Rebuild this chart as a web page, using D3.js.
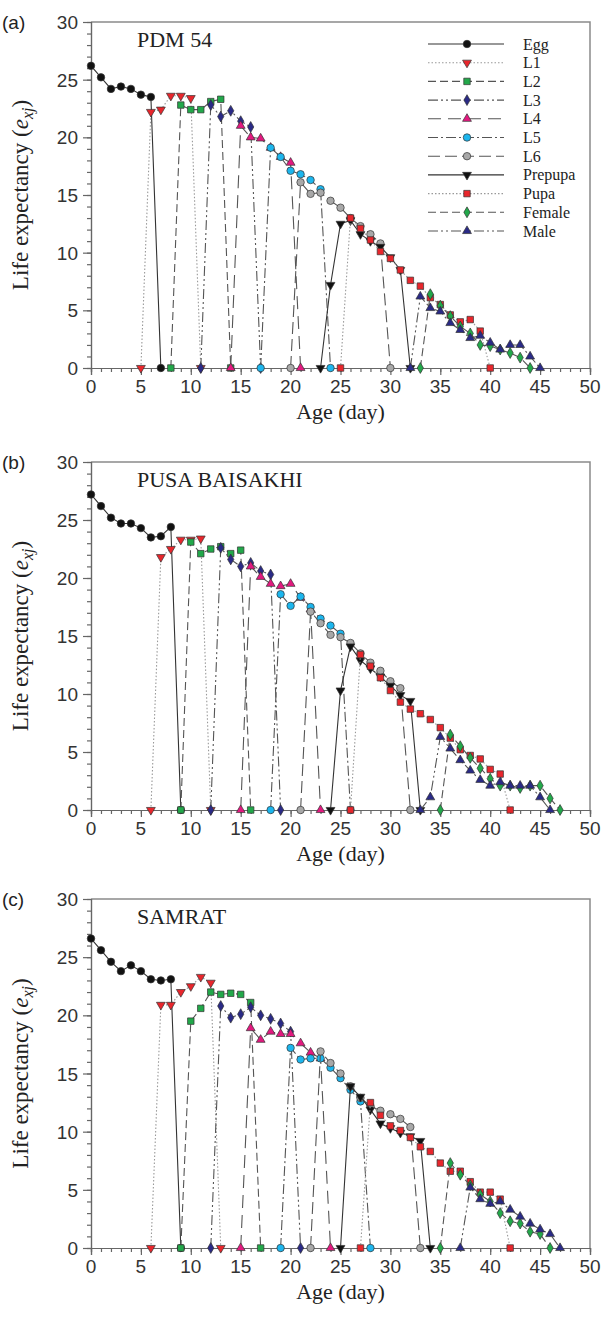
<!DOCTYPE html>
<html><head><meta charset="utf-8">
<script src="https://cdn.jsdelivr.net/npm/d3@7"></script>
<style>body{margin:0;background:#fff}svg{display:block}</style>
</head><body>
<script>
// ---------- data ----------
const stageNames = ["Egg","L1","L2","L3","L4","L5","L6","Prepupa","Pupa","Female","Male"];
const panelLabels = ["(a)","(b)","(c)"];
const panelTitles = ["PDM 54","PUSA BAISAKHI","SAMRAT"];
const xTicks = [0,5,10,15,20,25,30,35,40,45,50];
const yTicks = [0,5,10,15,20,25,30];

// first age (day) of each stage curve, then e_xj values day by day
const a_start = [0,5,8,11,14,17,20,23,25,33,32];
const a_values = [
  [26.2,25.2,24.2,24.4,24.2,23.7,23.5,0],
  [0,22.2,22.4,23.6,23.6,23.4,0],
  [0,22.8,22.4,22.4,23.1,23.3,0],
  [0,22.8,21.8,22.3,21.4,20.9,0],
  [0,21.0,20.0,19.9,19.1,18.3,17.8,0],
  [0,19.1,18.3,17.1,16.8,16.3,15.5,0],
  [0,16.1,15.1,15.2,14.5,13.9,13.0,12.3,11.6,10.8,0],
  [0,7.2,12.5,12.8,11.6,11.0,10.5,9.6,8.5,0],
  [0,13.0,12.1,11.1,10.1,9.5,8.5,7.6,7.1,6.1,5.5,4.6,4.0,4.2,3.2,0],
  [0,6.4,5.4,4.5,3.6,3.0,2.0,1.9,1.6,1.3,0.9,0],
  [0,6.2,5.2,4.9,3.9,3.3,2.6,2.8,2.2,1.6,2.0,2.0,1.0,0]
];
const b_start = [0,6,9,12,15,18,21,24,26,35,33];
const b_values = [
  [27.2,26.2,25.2,24.7,24.7,24.3,23.5,23.6,24.4,0],
  [0,21.8,22.5,23.3,23.3,23.4,0],
  [0,23.1,22.1,22.5,22.7,22.1,22.4,0],
  [0,22.6,21.6,21.0,21.3,20.6,20.3,0],
  [0,21.0,20.1,19.5,19.3,19.5,18.3,17.3,0],
  [0,18.6,17.6,18.4,17.5,16.5,15.9,15.2,0],
  [0,17.1,16.1,15.1,14.9,14.4,13.5,12.7,12.0,11.1,10.5,0],
  [0,10.3,14.1,12.9,12.2,11.5,10.7,9.9,9.4,0],
  [0,13.4,12.4,11.4,10.3,9.3,8.7,8.3,7.8,7.1,6.2,5.2,4.7,4.4,3.5,3.1,0],
  [0,6.5,5.5,4.5,3.6,2.7,2.1,2.1,1.9,2.1,2.1,1.0,0],
  [0,1.1,6.3,5.3,4.3,3.4,2.6,2.1,2.4,2.1,2.1,2.1,1.1,0]
];
const c_start = [0,6,9,12,15,19,22,25,27,35,37];
const c_values = [
  [26.6,25.6,24.6,23.8,24.3,23.8,23.1,23.0,23.1,0],
  [0,20.9,20.9,22.0,22.5,23.3,22.8,0],
  [0,19.5,20.6,22.0,21.8,21.9,21.8,21.1,0],
  [0,20.8,19.8,20.1,20.7,20.0,19.7,19.3,18.6,0],
  [0,18.9,17.9,18.6,18.4,18.4,17.6,16.8,16.3,0],
  [0,17.2,16.2,16.3,16.3,15.5,14.6,13.6,12.6,0],
  [0,16.9,15.9,15.0,13.9,12.9,12.2,11.8,11.5,11.1,10.4,0],
  [0,13.9,13.0,11.9,10.7,10.3,9.9,9.6,9.2,0],
  [0,12.5,11.4,10.5,10.1,9.5,8.7,8.3,7.3,6.6,6.6,5.7,4.8,4.8,4.2,0],
  [0,7.3,6.3,5.4,4.6,4.0,3.0,2.3,2.1,1.4,1.2,0],
  [0,5.2,4.2,3.8,4.0,3.3,2.7,2.1,1.6,1.2,0]
];

// ---------- styles ----------
const fills = ["#111111","#e8262c","#22a84a","#2a2a86","#e2197f","#1cb6ee","#a8a8a8","#111111","#e8262c","#22a84a","#2a2a86"];
const shapes = [d3.symbolCircle,"tridown",d3.symbolSquare,d3.symbolDiamond,d3.symbolTriangle,d3.symbolCircle,d3.symbolCircle,"tridown",d3.symbolSquare,d3.symbolDiamond,d3.symbolTriangle];
const dashes = [null,"1.5,2","8,4","10,3,2,3,2,3","13,7","10,3,2,3","12,5",null,"1.5,2","8,4","10,3,2,3,2,3"];
const lineCols = ["#333","#999","#555","#555","#555","#555","#555","#333","#999","#555","#555"];

const W = 601, H = 1324;
const svg = d3.select("body").append("svg").attr("width",W).attr("height",H);
const serif = "'Liberation Serif','Times New Roman',serif";
const sans = "'Liberation Sans',Arial,sans-serif";

const panels = [
  {start:a_start, values:a_values, top:22, bottom:368},
  {start:b_start, values:b_values, top:462, bottom:810},
  {start:c_start, values:c_values, top:899, bottom:1248}
];
const x = d3.scaleLinear().domain([0,50]).range([91,590]);

function drawMarker(g, i, cx, cy){
  const s = shapes[i];
  const isTri = (s==="tridown" || s===d3.symbolTriangle);
  const size = isTri ? 34 : (s===d3.symbolDiamond ? 34 : (s===d3.symbolSquare ? 42 : 44));
  const sym = (s==="tridown") ? d3.symbolTriangle : s;
  g.append("path").attr("d", d3.symbol(sym, size)())
   .attr("transform", `translate(${cx},${cy})` + (s==="tridown"?" rotate(180)":""))
   .attr("fill", fills[i]).attr("stroke","#333").attr("stroke-width",0.7);
}

panels.forEach((p, pi) => {
  const y = d3.scaleLinear().domain([0,30]).range([p.bottom,p.top]);
  const g = svg.append("g");

  // frame
  g.append("path").attr("d",`M${x(0)},${y(30)}H${x(50)}V${y(0)}`).attr("fill","none").attr("stroke","#8a8a8a").attr("stroke-width",1.5);

  // axes
  const xAxis = d3.axisBottom(x).tickValues(xTicks).tickSize(7).tickFormat("");
  const xMinor = d3.axisBottom(x).tickValues(d3.range(0,51,1)).tickSize(4).tickFormat("");
  const yAxis = d3.axisLeft(y).tickValues(yTicks).tickSize(8).tickFormat("");
  const yMinor = d3.axisLeft(y).tickValues(d3.range(0,31,1)).tickSize(4).tickFormat("");
  [xMinor,xAxis].forEach(ax=>{
    const a = g.append("g").attr("transform",`translate(0,${y(0)})`).call(ax);
    a.selectAll("path,line").attr("stroke","#666").attr("stroke-width",1.2);
  });
  [yMinor,yAxis].forEach(ax=>{
    const a = g.append("g").attr("transform",`translate(${x(0)},0)`).call(ax);
    a.selectAll("path,line").attr("stroke","#666").attr("stroke-width",1.2);
  });
  // tick labels
  g.selectAll(".xl").data(xTicks).enter().append("text")
    .attr("x",d=>x(d)).attr("y",y(0)+25).attr("text-anchor","middle")
    .attr("font-family",sans).attr("font-size",19).attr("fill","#333").text(d=>d);
  g.selectAll(".yl").data(yTicks).enter().append("text")
    .attr("x",x(0)-13).attr("y",d=>y(d)+7).attr("text-anchor","end")
    .attr("font-family",sans).attr("font-size",19).attr("fill","#333").text(d=>d);

  // axis titles
  g.append("text").attr("x",(x(0)+x(50))/2).attr("y",y(0)+51).attr("text-anchor","middle")
    .attr("font-family",serif).attr("font-size",22).attr("fill","#222").text("Age (day)");
  const yl = g.append("text").attr("transform",`translate(28,${(p.top+p.bottom)/2}) rotate(-90)`)
    .attr("text-anchor","middle").attr("font-family",serif).attr("font-size",23).attr("fill","#222");
  yl.append("tspan").text("Life expectancy (");
  yl.append("tspan").attr("font-style","italic").text("e");
  yl.append("tspan").attr("font-style","italic").attr("font-size",16).attr("dy",5).text("xj");
  yl.append("tspan").attr("dy",-5).text(")");

  // panel label & title
  g.append("text").attr("x",2).attr("y",p.top+7).attr("font-family",sans).attr("font-size",19).attr("fill","#222").text(panelLabels[pi]);
  g.append("text").attr("x",137).attr("y",p.top+25).attr("font-family",serif).attr("font-size",22).attr("fill","#222").text(panelTitles[pi]);

  // series
  const line = d3.line().x(d=>x(d[0])).y(d=>y(d[1]));
  stageNames.forEach((name, i) => {
    const pts = p.values[i].map((v,k)=>[p.start[i]+k, v]);
    g.append("path").attr("d", line(pts)).attr("fill","none")
      .attr("stroke", lineCols[i]).attr("stroke-width",1.1)
      .attr("stroke-dasharray", dashes[i]);
    pts.forEach(d => drawMarker(g, i, x(d[0]), y(d[1])));
  });

  // legend only in panel (a)
  if(pi===0){
    stageNames.forEach((name,i)=>{
      const ly = 44 + i*18.7;
      g.append("line").attr("x1",428).attr("x2",504).attr("y1",ly).attr("y2",ly)
        .attr("stroke",lineCols[i]).attr("stroke-width",1.1).attr("stroke-dasharray",dashes[i]);
      drawMarker(g, i, 467, ly);
      g.append("text").attr("x",523).attr("y",ly+5.5).attr("font-family",serif)
        .attr("font-size",16).attr("fill","#222").text(name);
    });
  }
});
</script>
</body></html>
